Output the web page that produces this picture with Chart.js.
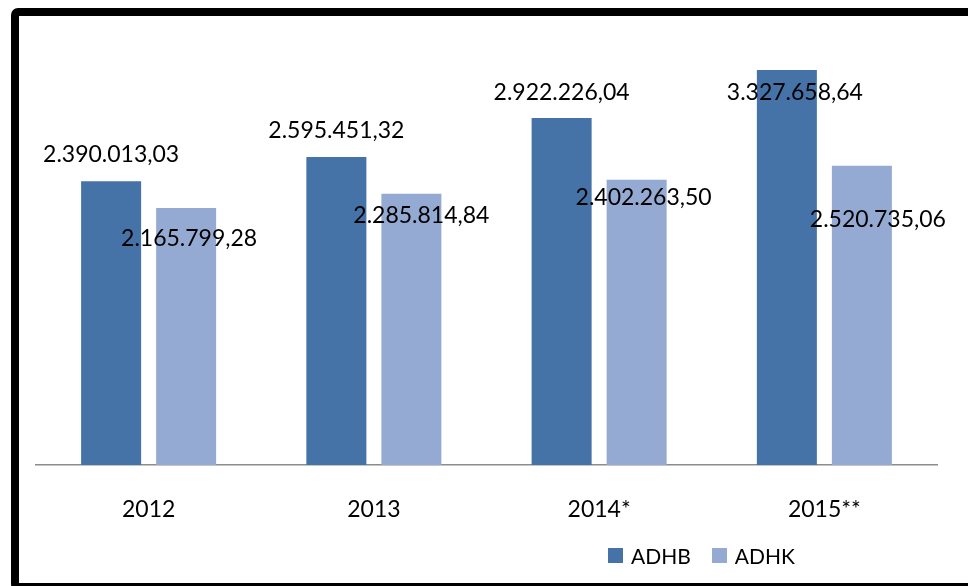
<!DOCTYPE html>
<html>
<head>
<meta charset="utf-8">
<script src="https://cdn.jsdelivr.net/npm/chart.js@4/dist/chart.umd.min.js"></script>
<style>
	html, body { margin: 0; padding: 0; background: #fff; }
	body { width: 968px; height: 586px; position: relative; overflow: hidden; font-family: Lato, sans-serif; }
	#frame { position: absolute; left: 11px; top: 8px; width: 990px; height: 583px; border: 8px solid #000; border-radius: 7px; box-sizing: border-box; }
	#wrap { position: absolute; left: 0; top: 0; width: 968px; height: 586px; }
	#legend { position: absolute; left: 608px; top: 543px; display: flex; align-items: center; font-size: 21px; color: #000; }
	#legend span.sw { display: inline-block; width: 15px; height: 15px; margin-right: 8px; }
	#legend span.lb { margin-right: 21px; }
</style>
</head>
<body>
<div id="frame"></div>
<div id="wrap"><canvas id="chart" width="968" height="586"></canvas></div>
<div id="legend"></div>
<script>
const years = ['2012', '2013', '2014*', '2015**'];
const adhb = [2390013.03, 2595451.32, 2922226.04, 3327658.64];
const adhk = [2165799.28, 2285814.84, 2402263.50, 2520735.06];
const seriesNames = ['ADHB', 'ADHK'];
const colors = ['#4572A7', '#95AAD2'];

// label offsets (x, baseline y) relative to bar centre / bar top, placed by hand like the original
const labelDx = [[0, 0, 0, 8], [3, 10, 7, 16]];
const labelDy = [[-19, -19, -18, 30], [38, 29, 25, 61]];

function fmt(v) {
	const [i, d] = v.toFixed(2).split('.');
	return i.replace(/\B(?=(\d{3})+(?!\d))/g, '.') + ',' + d;
}

const valueLabels = {
	id: 'valueLabels',
	afterDatasetsDraw(chart) {
		const ctx = chart.ctx;
		ctx.save();
		ctx.font = '23px Lato';
		ctx.fillStyle = '#000';
		ctx.textAlign = 'center';
		ctx.textBaseline = 'alphabetic';
		chart.data.datasets.forEach((ds, di) => {
			chart.getDatasetMeta(di).data.forEach((bar, i) => {
				ctx.fillText(fmt(ds.data[i]), bar.x + labelDx[di][i], bar.y + labelDy[di][i]);
			});
		});
		ctx.restore();
	}
};

new Chart(document.getElementById('chart'), {
	type: 'bar',
	data: {
		labels: years,
		datasets: [
			{ label: seriesNames[0], data: adhb, backgroundColor: colors[0] },
			{ label: seriesNames[1], data: adhk, backgroundColor: colors[1] }
		]
	},
	options: {
		responsive: false,
		animation: false,
		layout: { padding: { left: 36, right: 31, top: 49.5, bottom: 41 } },
		datasets: { bar: { categoryPercentage: 0.666, barPercentage: 0.8 } },
		scales: {
			x: {
				grid: { display: false, drawTicks: false },
				border: { display: true, color: '#8c8c8c', width: 1.5 },
				ticks: { color: '#000', font: { family: 'Lato', size: 23 }, padding: 31 },
				afterFit: s => { s.height = 80; }
			},
			y: { display: false, min: 0, max: 3500000 }
		},
		plugins: { legend: { display: false }, tooltip: { enabled: false } }
	},
	plugins: [valueLabels]
});

document.getElementById('legend').innerHTML = seriesNames.map((n, i) =>
	`<span class="sw" style="background:${colors[i]}"></span><span class="lb">${n}</span>`
).join('');
</script>
</body>
</html>
